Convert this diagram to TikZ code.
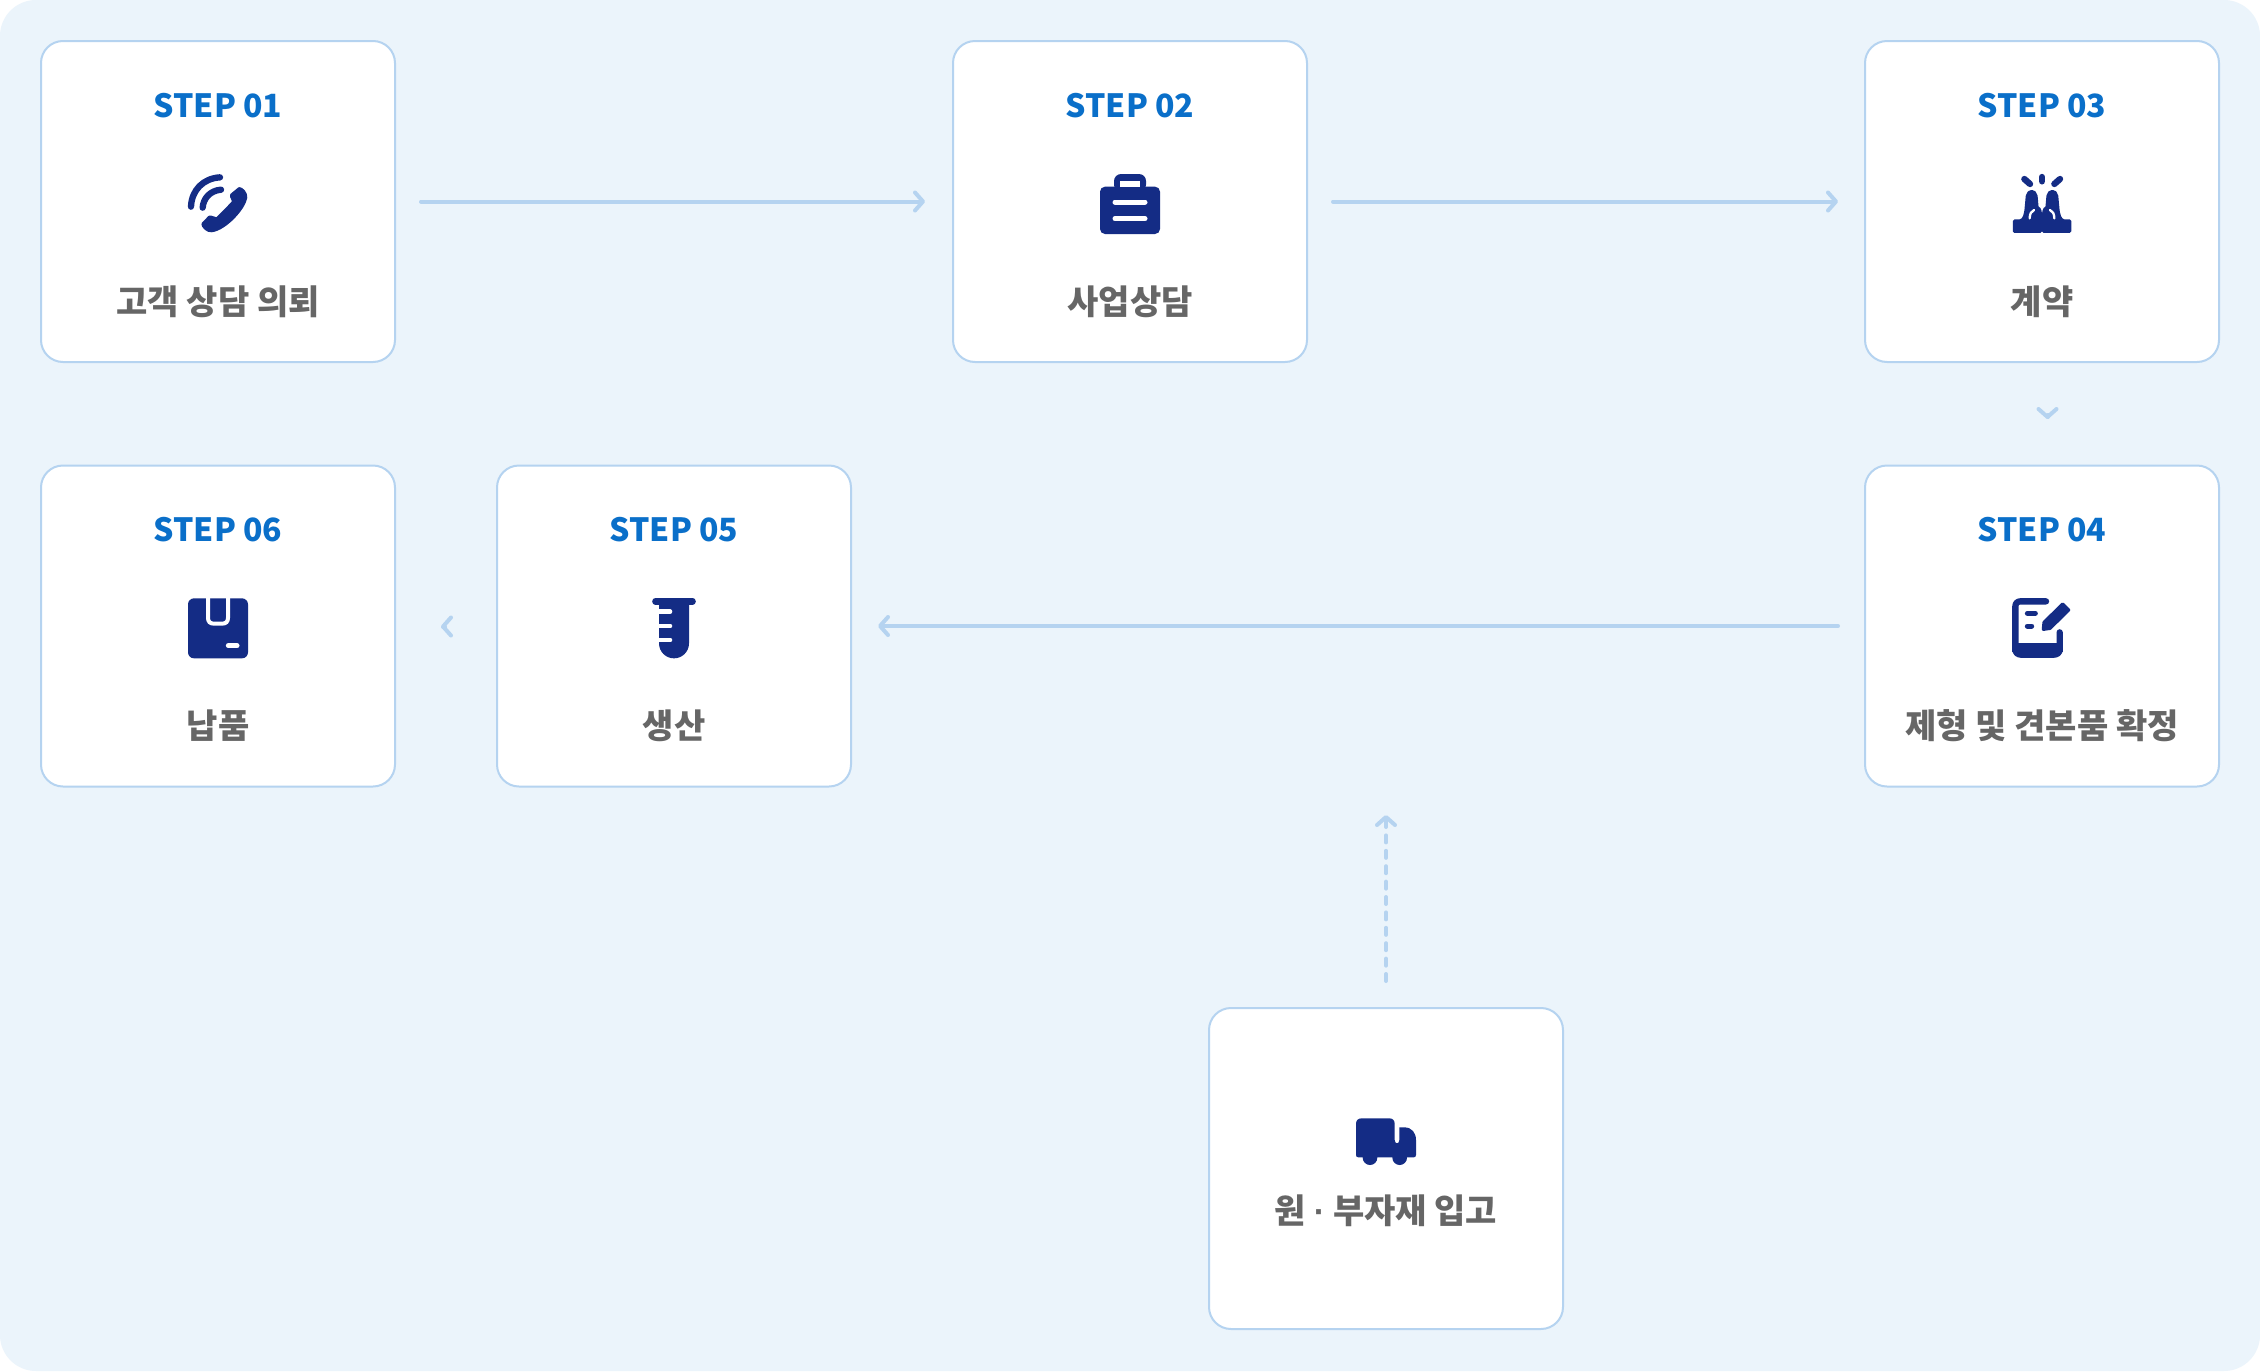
\documentclass[tikz,border=0pt]{standalone}
\usepackage{fontspec}
\setmainfont{Noto Sans CJK KR}
\newfontfamily\dotfont{Liberation Sans}
\usetikzlibrary{arrows.meta,calc}
\definecolor{pagebg}{HTML}{EBF4FB}
\definecolor{edge}{HTML}{B5D3F0}
\definecolor{stepblue}{HTML}{0A6FC9}
\definecolor{navy}{HTML}{142C85}
\definecolor{labelgray}{HTML}{666666}
\tikzset{
  card/.style={draw=edge,fill=white,line width=1pt,rounded corners=11pt,minimum width=177pt,minimum height=160.5pt,inner sep=0pt,outer sep=0pt},
  steptext/.style={anchor=base,text=stepblue,font=\fontsize{16}{16}\selectfont\bfseries,inner sep=0pt},
  labeltext/.style={anchor=base,text=labelgray,font=\fontsize{17}{17}\selectfont\bfseries,inner sep=0pt},
  flow/.style={draw=edge,line width=2pt,line cap=round,-{Straight Barb[length=4pt,width=9pt,round]}},
  iconzone/.style={x=0.16667pt,y=-0.16667pt},
  ink/.style={fill=navy,draw=navy,line width=1.6pt,line join=round},
  stroke/.style={draw=navy,line cap=round,line join=round,line width=#1*0.16667pt},
  cut/.style={draw=white,line cap=round,line width=#1*0.16667pt}
}
\newcommand{\stepcard}[5]{%
  \node[card] (#1) at (#2,#3) {};
  \node[steptext] (#1t) at (#2,#3-84.5) {#4};
  \node[labeltext] (#1l) at (#2,#3+112.5) {#5};
}
\begin{document}
\begin{tikzpicture}[x=0.5pt,y=-0.5pt]
\useasboundingbox (0,0) rectangle (2260,1371);
\fill[white] (0,0) rectangle (2260,1371);
\fill[pagebg,rounded corners=18pt] (0,0) rectangle (2260,1371);

\stepcard{s1}{218}{201.5}{STEP 01}{고객 상담 의뢰}
\stepcard{s2}{1130}{201.5}{STEP 02}{사업상담}
\stepcard{s3}{2042}{201.5}{STEP 03}{계약}
\stepcard{s4}{2042}{626}{STEP 04}{제형 및 견본품 확정}
\stepcard{s5}{674}{626}{STEP 05}{생산}
\stepcard{s6}{218}{626}{STEP 06}{납품}
\node[card] (s7) at (1386,1168.5) {};
\node[labeltext] (s7l) at (1386,1223) {원 {\dotfont ·} 부자재 입고};

% connectors
\draw[flow,shorten <=13pt,shorten >=14pt] (s1) -- (s2);
\draw[flow,shorten <=13pt,shorten >=13.5pt] (s2) -- (s3);
\draw[flow,shorten <=13.5pt,shorten >=13.5pt] (s4) -- (s5);
\coordinate (c34a) at (2047.5,417);
\coordinate (c34b) at (2047.5,419);
\draw[flow] (c34a) -- (c34b);
\coordinate (c56a) at (443,626.5);
\coordinate (c56b) at (441,626.5);
\draw[flow] (c56a) -- (c56b);
\coordinate (rawend) at (1386,815);
\draw[flow,dashed,dash pattern=on 3.5pt off 4.2pt,shorten <=13.5pt] (s7.north) -- (rawend);

% phone
\begin{scope}[xshift=75pt,yshift=-75pt,iconzone]
\draw[stroke=19] (123,170) .. controls (125,120) and (160,85) .. (210,82);
\draw[stroke=19] (158,173) .. controls (160,145) and (180,122) .. (213,119);
\path[ink] (268,116) .. controls (275,116) and (289,130) .. (287,143) .. controls (282,175) and (225,237) .. (185,242) .. controls (172,244) and (158,228) .. (159,222) -- (178,202) .. controls (183,199) and (195,208) .. (202,206) -- (250,157) .. controls (252,148) and (242,140) .. (245,135) -- cycle;
\end{scope}

% briefcase
\begin{scope}[xshift=530pt,yshift=-75pt,iconzone]
\fill[navy,rounded corners=2.5pt] (120,110) rectangle (300,252);
\fill[navy,rounded corners=3.5pt] (162,125) rectangle (258,72);
\fill[white] (181,92) rectangle (240,110);
\draw[cut=15] (165,156) -- (255,156);
\draw[cut=15] (165,206) -- (255,206);
\end{scope}

% hands
\begin{scope}[xshift=985pt,yshift=-75pt,iconzone]
\draw[stroke=19] (163,87) -- (180,102);
\draw[stroke=19] (216,81) -- (216,94);
\draw[stroke=19] (270,87) -- (253,102);
\foreach \m in {1,-1}{
\begin{scope}[xshift=36pt,xscale=\m,xshift=-36pt]
\path[ink] (133,213) -- (150,213) .. controls (163,210) and (167,195) .. (169,170) -- (172,138) .. controls (175,120) and (195,120) .. (198,138) -- (201,172) .. controls (206,172) and (210,180) .. (211,190) -- (211,244) -- (133,244) -- cycle;
\draw[cut=7] (179,205) .. controls (179,192) and (184,183) .. (192,180);
\end{scope}}
\end{scope}

% document
\begin{scope}[xshift=985pt,yshift=-287.5pt,iconzone]
\draw[stroke=19] (228,79) -- (152,79) .. controls (142,79) and (136,85) .. (136,95) -- (136,222) .. controls (136,233) and (143,239) .. (154,239) -- (250,239) .. controls (262,239) and (269,233) .. (269,222) -- (269,172);
\fill[navy] (127,203) rectangle (278,230);
\path[ink] (220,163) -- (222,142) -- (278,87) -- (296,105) -- (240,160) -- cycle;
\draw[stroke=15] (172,115) -- (196,115);
\draw[stroke=15] (172,153) -- (185,153);
\end{scope}

% tube
\begin{scope}[xshift=300pt,yshift=-287.5pt,iconzone]
\draw[stroke=19] (166,79) -- (278,79);
\fill[navy] (177,85) -- (267,85) -- (267,205) arc[start angle=0,end angle=180,radius=45] -- cycle;
\fill[white] (170,103) rectangle (210,117);
\fill[white] (170,146) rectangle (210,160);
\fill[white] (170,188) rectangle (210,202);
\draw[cut=14] (208,110) -- (210,110);
\draw[cut=14] (208,153) -- (210,153);
\draw[cut=14] (208,195) -- (210,195);
\end{scope}

% parcel
\begin{scope}[xshift=75pt,yshift=-287.5pt,iconzone]
\fill[navy,rounded corners=3pt] (114,70) rectangle (294,250);
\draw[draw=white,line width=2pt] (174,66) -- (174,128) .. controls (174,140) and (180,146) .. (192,146) -- (216,146) .. controls (228,146) and (234,140) .. (234,128) -- (234,66);
\draw[cut=15] (235,212) -- (261,212);
\end{scope}

% truck
\begin{scope}[xshift=655pt,yshift=-545pt,iconzone]
\fill[navy] (155,85) -- (238,85) .. controls (248,85) and (254,91) .. (254,101) -- (254,150) .. controls (254,163) and (268,163) .. (268,150) -- (268,112) -- (283,112) .. controls (305,112) and (318,128) .. (318,150) -- (318,195) .. controls (318,200) and (315,202) .. (311,202) -- (145,202) .. controls (141,202) and (138,200) .. (138,195) -- (138,102) .. controls (138,91) and (144,85) .. (155,85) -- cycle;
\fill[navy] (180,203) circle[radius=22];
\fill[navy] (269,203) circle[radius=22];
\end{scope}
\end{tikzpicture}
\end{document}
